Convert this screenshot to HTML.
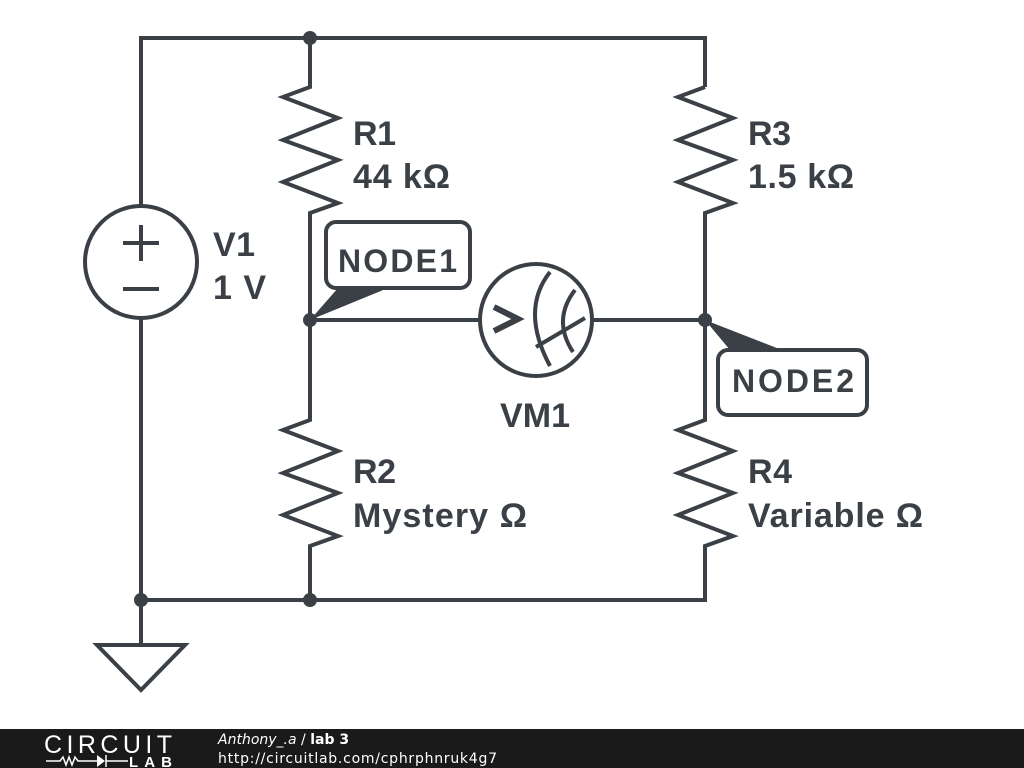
<!DOCTYPE html>
<html><head><meta charset="utf-8"><style>
body{margin:0;width:1024px;height:768px;background:#fff;overflow:hidden}
svg{display:block}
text{font-family:"Liberation Sans","DejaVu Sans",sans-serif;font-weight:bold;fill:#3a4045}
</style></head><body>
<svg width="1024" height="768" viewBox="0 0 1024 768">
<g stroke="#3a4045" stroke-width="4" fill="none" stroke-linejoin="miter">
<polyline points="141,206 141,38 705,38 705,87"/>
<line x1="141" y1="318" x2="141" y2="645"/>
<polyline points="310,38 310,87 283,97 338,118 283,140 338,160 283,182 338,203 310,213 310,420 283,430 338,451 283,473 338,493 283,515 338,536 310,546 310,600"/>
<polyline points="705,87 678,97 733,118 678,140 733,160 678,182 733,203 705,213 705,420 678,430 733,451 678,473 733,493 678,515 733,536 705,546 705,600 141,600"/>
<circle cx="141" cy="262" r="56"/>
<line x1="123" y1="243" x2="159" y2="243"/><line x1="141" y1="225" x2="141" y2="261"/>
<line x1="123" y1="289" x2="159" y2="289"/>
<polygon points="97,645 185,645 141,690"/>
<line x1="310" y1="320" x2="480" y2="320"/><line x1="592" y1="320" x2="705" y2="320"/>
<circle cx="536" cy="320" r="56"/>
<polyline points="494,307 518,319 494,331" stroke-width="6"/>
<path d="M550,272 Q520,310 550,366"/>
<path d="M575,290 Q552,320 573,352"/>
<line x1="536" y1="347" x2="585" y2="318"/>
<rect x="326" y="222" width="144" height="66" rx="10"/>
<rect x="718" y="350" width="149" height="65" rx="10"/>
</g>
<g fill="#3a4045">
<circle cx="310" cy="38" r="7"/><circle cx="310" cy="320" r="7"/><circle cx="705" cy="320" r="7"/>
<circle cx="141" cy="600" r="7"/><circle cx="310" cy="600" r="7"/>
<polygon points="310,320 338,288 388,288"/>
<polygon points="705,320 730,350 782,350"/>
</g>
<g font-size="34">
<text x="353" y="145" textLength="43">R1</text><text x="353" y="188" textLength="97">44 kΩ</text>
<text x="213" y="256" textLength="42">V1</text><text x="213" y="299" textLength="53">1 V</text>
<text x="748" y="145" textLength="43">R3</text><text x="748" y="188" textLength="106">1.5 kΩ</text>
<text x="353" y="527" textLength="174">Mystery Ω</text><text x="353" y="483" textLength="43">R2</text>
<text x="748" y="483" textLength="44">R4</text><text x="748" y="527" textLength="175">Variable Ω</text>
<text x="500" y="427" textLength="70">VM1</text>
</g>
<g font-size="32">
<text x="338" y="272" textLength="119">NODE1</text>
<text x="732" y="392" textLength="122">NODE2</text>
</g>
<rect x="0" y="729" width="1024" height="39" fill="#1a1a1a"/>
<text x="44" y="753" font-size="25" textLength="128" style="font-weight:normal;fill:#fff">CIRCUIT</text>
<g stroke="#fff" stroke-width="1.5" fill="none"><polyline points="46,761 60,761 63,757 66,765 69,757 72,765 75,757 78,761 98,761"/><line x1="106" y1="761" x2="128" y2="761"/><line x1="106" y1="755" x2="106" y2="767"/></g>
<polygon points="97,755 97,767 105,761" fill="#fff"/>
<text x="129" y="767" font-size="15" textLength="43" style="fill:#fff">LAB</text>
<text x="218" y="744" font-size="14" style="fill:#fff;font-weight:normal;font-family:'DejaVu Sans',sans-serif"><tspan font-style="italic">Anthony_.a</tspan> / <tspan font-weight="bold">lab 3</tspan></text>
<text x="218" y="763" font-size="14" textLength="279" style="fill:#fff;font-weight:normal;font-family:'DejaVu Sans',sans-serif">http://circuitlab.com/cphrphnruk4g7</text>
</svg>
</body></html>
